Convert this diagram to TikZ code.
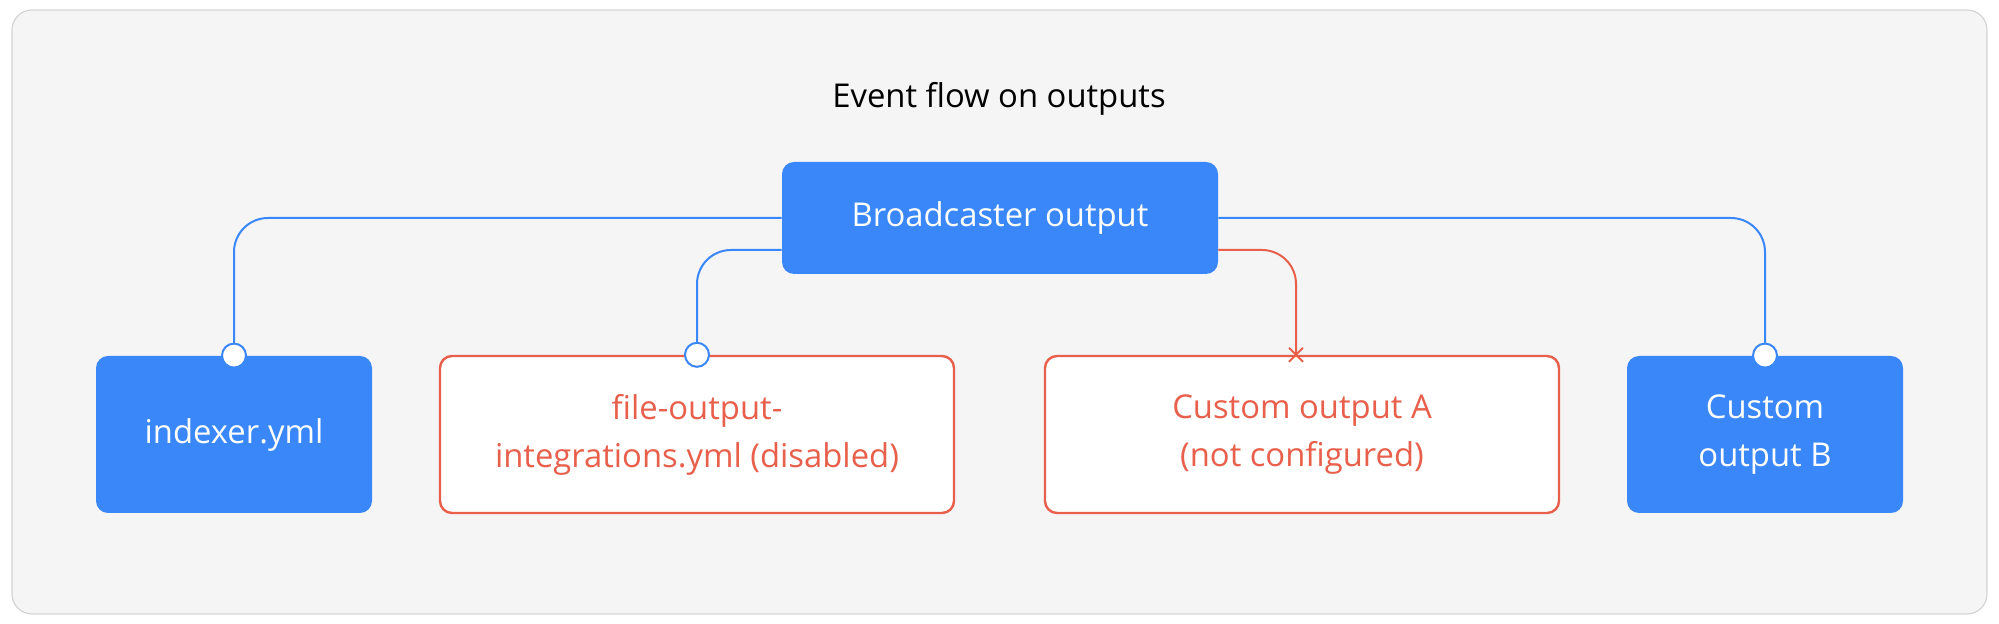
\documentclass[tikz,border=0pt]{standalone}
\usepackage{fontspec}
\setmainfont{Open Sans}
\usetikzlibrary{shapes.misc, positioning}
\definecolor{busblue}{RGB}{58,135,250}
\definecolor{offred}{RGB}{232,96,76}
\definecolor{panelgray}{RGB}{245,245,245}
\definecolor{panelline}{RGB}{212,212,212}
\tikzset{
  box/.style={rectangle, rounded corners=6pt, align=center, inner sep=0pt,
    font=\fontsize{16.4}{24}\selectfont},
  onbox/.style={box, fill=busblue, text=white},
  offbox/.style={box, fill=white, draw=offred, line width=1.2pt, text=offred},
  wire/.style={line width=1pt, rounded corners=17pt},
  onwire/.style={wire, draw=busblue},
  offwire/.style={wire, draw=offred},
  socket/.style={circle, fill=white, draw=busblue, line width=1pt,
    minimum size=12pt, inner sep=0pt},
  nosocket/.style={cross out, draw=offred, line width=1pt,
    minimum size=6pt, inner sep=0pt},
}
\begin{document}
\begin{tikzpicture}[x=0.5pt, y=-0.5pt]
  \useasboundingbox (0,0) rectangle (1999,624);
  \draw[fill=panelgray, draw=panelline, line width=0.6pt, rounded corners=10pt]
    (12,10) rectangle (1987,614);
  \node[font=\fontsize{16.4}{20}\selectfont, anchor=base] (title) at (999,108)
    {Event flow on outputs};
  % source and outputs
  \node[onbox, minimum width=218pt, minimum height=56pt] (bcast) at (1000,218)
    {Broadcaster output};
  \node[onbox, minimum width=138pt, minimum height=78.5pt] (idx) at (234,434.5)
    {indexer.yml};
  \node[offbox, minimum width=257pt, minimum height=78.5pt] (fileout) at (697,434.5)
    {file-output-\\integrations.yml (disabled)};
  \node[offbox, minimum width=257pt, minimum height=78.5pt] (custa) at (1302,434.5)
    {Custom output A\\(not configured)};
  \node[onbox, minimum width=138pt, minimum height=78.5pt] (custb) at (1765,434.5)
    {Custom\\output B};
  % connectors
  \draw[onwire] (bcast.west) -| (idx.north);
  \draw[onwire] ([yshift=-16pt]bcast.west) -| (fileout.north);
  \draw[offwire] ([yshift=-16pt]bcast.east) -| ([xshift=-3pt]custa.north);
  \draw[onwire] (bcast.east) -| (custb.north);
  % end markers
  \node[socket] (idxin) at (idx.north) {};
  \node[socket] (fileoutin) at (fileout.north) {};
  \node[nosocket] (custain) at ([xshift=-3pt]custa.north) {};
  \node[socket] (custbin) at (custb.north) {};
\end{tikzpicture}
\end{document}
